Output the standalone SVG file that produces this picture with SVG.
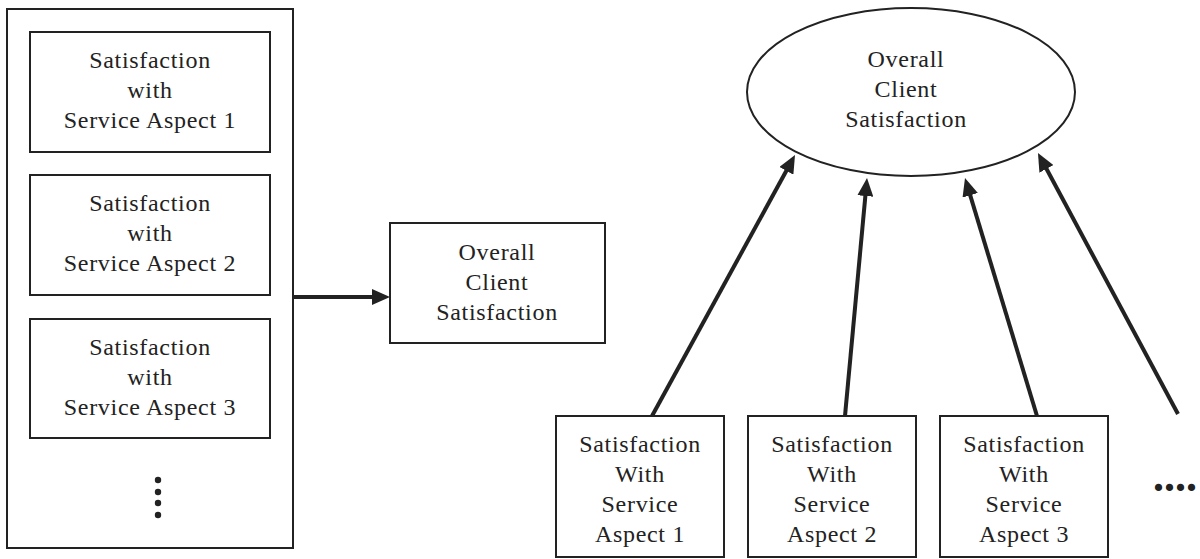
<svg xmlns="http://www.w3.org/2000/svg" width="1200" height="559" viewBox="0 0 1200 559">
<style>
.box{fill:#fff;stroke:#222;stroke-width:2}
.t{font-family:"Liberation Serif","Times New Roman",serif;font-size:24px;letter-spacing:0.7px;fill:#222;text-anchor:middle}
.arr{stroke:#222;stroke-width:4;fill:none;marker-end:url(#ah)}
.dot{fill:#222}
</style>
<defs>
<marker id="ah" markerUnits="userSpaceOnUse" markerWidth="18" markerHeight="16" refX="8" refY="8" orient="auto" viewBox="0 0 18 16">
<path d="M0,0 L18,8 L0,16 z" fill="#222"/>
</marker>
</defs>
<rect width="1200" height="559" fill="#fff"/>
<g id="group-left">
<rect class="box" x="7" y="9" width="286" height="539"/>
</g>
<g id="aspect1-left">
<rect class="box" x="30" y="32" width="240" height="120"/>
<text class="t" x="150" y="68">Satisfaction</text>
<text class="t" x="150" y="98">with</text>
<text class="t" x="150" y="128">Service Aspect 1</text>
</g>
<g id="aspect2-left">
<rect class="box" x="30" y="175" width="240" height="120"/>
<text class="t" x="150" y="211">Satisfaction</text>
<text class="t" x="150" y="241">with</text>
<text class="t" x="150" y="271">Service Aspect 2</text>
</g>
<g id="aspect3-left">
<rect class="box" x="30" y="319" width="240" height="119"/>
<text class="t" x="150" y="355">Satisfaction</text>
<text class="t" x="150" y="385">with</text>
<text class="t" x="150" y="415">Service Aspect 3</text>
</g>
<g id="vdots">
<circle class="dot" cx="158" cy="480" r="3.2"/>
<circle class="dot" cx="158" cy="492" r="3.2"/>
<circle class="dot" cx="158" cy="503" r="3.2"/>
<circle class="dot" cx="158" cy="515" r="3.2"/>
</g>
<g id="overall-box">
<rect class="box" x="390" y="223" width="215" height="120"/>
<text class="t" x="497" y="260">Overall</text>
<text class="t" x="497" y="290">Client</text>
<text class="t" x="497" y="320">Satisfaction</text>
</g>
<g id="overall-ellipse">
<ellipse cx="911" cy="92" rx="164" ry="84" fill="#fff" stroke="#222" stroke-width="2"/>
<text class="t" x="906" y="67">Overall</text>
<text class="t" x="906" y="97">Client</text>
<text class="t" x="906" y="127">Satisfaction</text>
</g>
<g id="aspect1-bottom">
<rect class="box" x="556" y="416" width="168" height="141"/>
<text class="t" x="640" y="452">Satisfaction</text>
<text class="t" x="640" y="482">With</text>
<text class="t" x="640" y="512">Service</text>
<text class="t" x="640" y="542">Aspect 1</text>
</g>
<g id="aspect2-bottom">
<rect class="box" x="748" y="416" width="168" height="141"/>
<text class="t" x="832" y="452">Satisfaction</text>
<text class="t" x="832" y="482">With</text>
<text class="t" x="832" y="512">Service</text>
<text class="t" x="832" y="542">Aspect 2</text>
</g>
<g id="aspect3-bottom">
<rect class="box" x="940" y="416" width="168" height="141"/>
<text class="t" x="1024" y="452">Satisfaction</text>
<text class="t" x="1024" y="482">With</text>
<text class="t" x="1024" y="512">Service</text>
<text class="t" x="1024" y="542">Aspect 3</text>
</g>
<g id="more">
<text x="1153" y="491" font-family="Liberation Serif, serif" font-size="44" font-weight="bold" fill="#222">....</text>
</g>
<g id="connectors">
<line class="arr" x1="293" y1="297" x2="380" y2="297"/>
<line class="arr" x1="652" y1="416" x2="790.2" y2="163.8"/>
<line class="arr" x1="845" y1="416" x2="866.1" y2="188"/>
<line class="arr" x1="1037" y1="416" x2="967.9" y2="187.6"/>
<line class="arr" x1="1178" y1="414" x2="1042.7" y2="161.8"/>
</g>
</svg>
